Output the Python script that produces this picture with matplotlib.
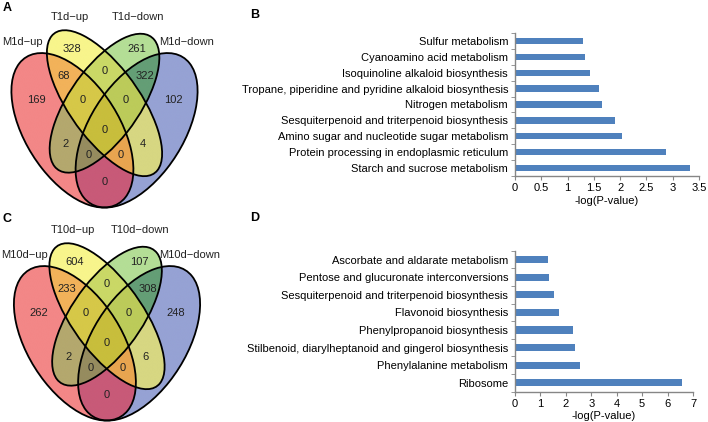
import numpy as np
import matplotlib
matplotlib.use("Agg")
import matplotlib.pyplot as plt
from matplotlib.patches import Ellipse
from matplotlib.ticker import FixedLocator, NullLocator

plt.rcParams['font.family'] = ['Liberation Sans', 'DejaVu Sans']

# ---------------- data ----------------
venn_a_sets = ["M1d\u2212up", "T1d\u2212up", "T1d\u2212down", "M1d\u2212down"]
# region order: Y, YG, G, RY, RYG, RYGB, YGB, GB, R, RG, RGB, RYB, YB, B, RB
venn_a_counts = [328, 0, 261, 68, 0, 0, 0, 322, 169, 2, 0, 0, 4, 102, 0]
venn_c_sets = ["M10d\u2212up", "T10d\u2212up", "T10d\u2212down", "M10d\u2212down"]
venn_c_counts = [604, 0, 107, 233, 0, 0, 0, 308, 262, 2, 0, 0, 6, 248, 0]

b_terms = ["Sulfur metabolism", "Cyanoamino acid metabolism",
           "Isoquinoline alkaloid biosynthesis",
           "Tropane, piperidine and pyridine alkaloid biosynthesis",
           "Nitrogen metabolism", "Sesquiterpenoid and triterpenoid biosynthesis",
           "Amino sugar and nucleotide sugar metabolism",
           "Protein processing in endoplasmic reticulum",
           "Starch and sucrose metabolism"]
b_values = [1.29, 1.33, 1.43, 1.59, 1.65, 1.90, 2.04, 2.88, 3.32]
b_ticks = [0, 0.5, 1, 1.5, 2, 2.5, 3, 3.5]

d_terms = ["Ascorbate and aldarate metabolism",
           "Pentose and glucuronate interconversions",
           "Sesquiterpenoid and triterpenoid biosynthesis",
           "Flavonoid biosynthesis", "Phenylpropanoid biosynthesis",
           "Stilbenoid, diarylheptanoid and gingerol biosynthesis",
           "Phenylalanine metabolism", "Ribosome"]
d_values = [1.29, 1.33, 1.55, 1.73, 2.29, 2.37, 2.56, 6.57]
d_ticks = [0, 1, 2, 3, 4, 5, 6, 7]

# ---------------- layout / style ----------------
W, H = 708, 422
fig = plt.figure(figsize=(W / 100, H / 100), dpi=100)

# Venn geometry (unit space), sets ordered R, Y, G, B
centers = [(0.35, 0.47), (0.50, 0.57), (0.50, 0.57), (0.65, 0.47)]
angles = [-45, -45, 45, 45]
semi_as = [0.35, 0.35, 0.33, 0.35]
semi_bs = [0.20, 0.15, 0.15, 0.20]
label_pos = [(0.35, 0.77), (0.50, 0.69), (0.65, 0.77), (0.31, 0.67), (0.40, 0.58),
             (0.50, 0.47), (0.60, 0.58), (0.69, 0.67), (0.18, 0.58), (0.32, 0.42),
             (0.425, 0.38), (0.575, 0.38), (0.68, 0.42), (0.82, 0.58), (0.50, 0.28)]
region_members = [(0, 1, 0, 0), (0, 1, 1, 0), (0, 0, 1, 0), (1, 1, 0, 0), (1, 1, 1, 0),
                  (1, 1, 1, 1), (0, 1, 1, 1), (0, 0, 1, 1), (1, 0, 0, 0), (1, 0, 1, 0),
                  (1, 0, 1, 1), (1, 1, 0, 1), (0, 1, 0, 1), (0, 0, 0, 1), (1, 0, 0, 1)]
region_colors = ["#F8F58C", "#CAD866", "#B4DE96", "#F2B25A", "#D6C848",
                 "#C8BE3C", "#BCCB5A", "#649E76", "#F38787", "#B4A86E",
                 "#968C5F", "#E8A550", "#D7D782", "#96A2D4", "#C85A78"]
set_label_pos = [(22, 42), (70, 17), (138, 17), (187, 42)]  # px, relative to panel


def hex2rgb(h):
    h = h.lstrip('#')
    return [int(h[i:i + 2], 16) / 255 for i in (0, 2, 4)]


def inside(u, v, c, ang, sa, sb):
    t = np.deg2rad(ang)
    du, dv = u - c[0], v - c[1]
    x = du * np.cos(t) + dv * np.sin(t)
    y = -du * np.sin(t) + dv * np.cos(t)
    return (x / sa) ** 2 + (y / sb) ** 2 <= 1


def draw_venn(py0, cx_px, cy_px, sets, counts, letter):
    # panel occupies px x 0..230, y py0..py0+211 ; unit (0.5, 0.77) sits at (cx_px, cy_px)
    sx, sy = 214.0, 271.0
    pw, ph = 230, 211
    ax = fig.add_axes([0, 1 - (py0 + ph) / H, pw / W, ph / H])
    u0 = 0.5 - cx_px / sx
    u1 = 0.5 + (pw - cx_px) / sx
    vtop = 0.77 + (cy_px - py0) / sy
    vbot = 0.77 - (py0 + ph - cy_px) / sy
    ax.set_xlim(u0, u1)
    ax.set_ylim(vbot, vtop)
    ax.axis('off')
    nu, nv = 1400, 1300
    U, V = np.meshgrid(np.linspace(u0, u1, nu), np.linspace(vbot, vtop, nv))
    masks = [inside(U, V, c, a, sa, sb)
             for c, a, sa, sb in zip(centers, angles, semi_as, semi_bs)]
    img = np.ones((nv, nu, 3))
    for mem, col in zip(region_members, region_colors):
        m = np.ones_like(U, dtype=bool)
        for k in range(4):
            m &= masks[k] if mem[k] else ~masks[k]
        img[m] = hex2rgb(col)
    ax.imshow(img, extent=(u0, u1, vbot, vtop), origin='lower', aspect='auto',
              interpolation='bilinear', zorder=0)
    for c, a, sa, sb in zip(centers, angles, semi_as, semi_bs):
        ax.add_patch(Ellipse(c, 2 * sa, 2 * sb, angle=a, fill=False,
                             ec='black', lw=1.3, zorder=2))
    for (lu, lv), n in zip(label_pos, counts):
        ax.text(lu, lv, str(n), ha='center', va='center', fontsize=8,
                color='#222222', zorder=3)
    dx = cx_px - 104.5
    dy = cy_px - py0 - 49
    for (px, py), s in zip(set_label_pos, sets):
        ax.text(0.5 + (px + dx - cx_px) / sx, 0.77 - (py + dy + py0 - cy_px) / sy,
                s, ha='center', va='center', fontsize=8, color='#222222')
    fig.text(7 / W, 1 - (py0 + 8) / H, letter, fontsize=9, fontweight='bold',
             ha='center', va='center')


draw_venn(0, 104.5, 49, venn_a_sets, venn_a_counts, "A")
draw_venn(211, 107, 262, venn_c_sets, venn_c_counts, "C")


def draw_bars(rect, terms, values, ticks, letter, letter_y):
    ax = fig.add_axes(rect)
    y = np.arange(len(terms))
    ax.barh(y, values, height=0.4, color='#4F81BD', zorder=2)
    ax.set_ylim(len(terms) - 0.5, -0.5)
    ax.set_xlim(ticks[0], ticks[-1])
    ax.set_yticks(y)
    ax.set_yticklabels(terms, fontsize=8)
    ax.yaxis.set_minor_locator(FixedLocator(np.arange(len(terms) + 1) - 0.5))
    ax.tick_params(axis='y', which='major', length=0, pad=5)
    ax.tick_params(axis='y', which='minor', length=3, color='#868686', direction='out')
    ax.set_xticks(ticks)
    ax.set_xticklabels([f"{t:g}" for t in ticks], fontsize=8)
    ax.tick_params(axis='x', which='major', length=3, color='#868686', direction='out', pad=2)
    ax.xaxis.set_minor_locator(NullLocator())
    for s in ['top', 'right']:
        ax.spines[s].set_visible(False)
    for s in ['left', 'bottom']:
        ax.spines[s].set_color('#868686')
        ax.spines[s].set_linewidth(1.0)
    ax.set_xlabel("-log(P-value)", fontsize=8, labelpad=2)
    fig.text(255 / W, 1 - letter_y / H, letter, fontsize=9, fontweight='bold',
             ha='center', va='center')


draw_bars([515 / W, 1 - 176 / H, (699 - 515) / W, (176 - 33) / H],
          b_terms, b_values, b_ticks, "B", 15)
draw_bars([515 / W, 1 - 391.7 / H, (693 - 515) / W, (391.7 - 250.7) / H],
          d_terms, d_values, d_ticks, "D", 218)

fig.savefig("out.png", dpi=100)
